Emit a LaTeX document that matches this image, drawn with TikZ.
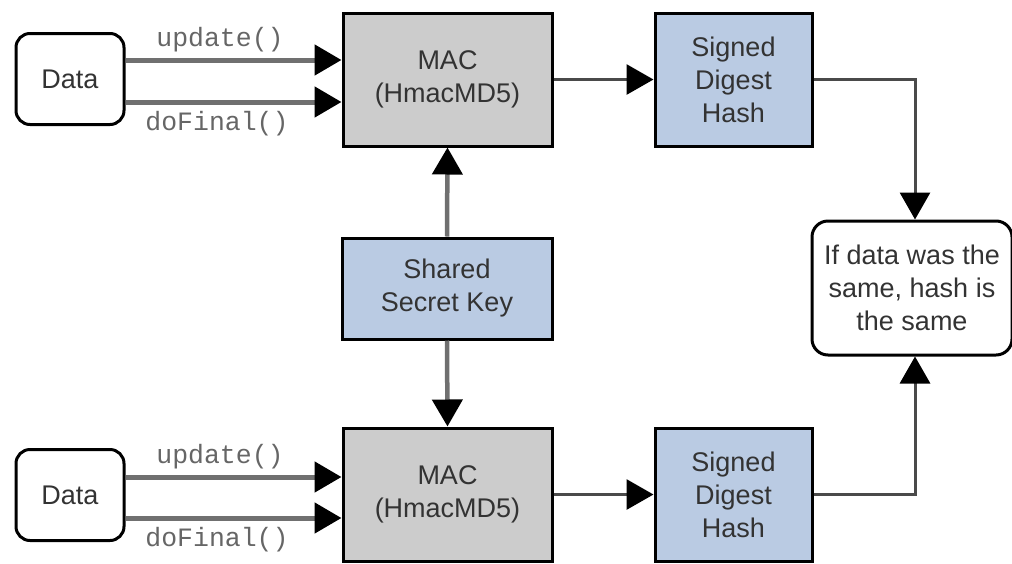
\documentclass[tikz,border=0pt]{standalone}
\usepackage{fontspec}
\setmainfont{Liberation Sans}
\setmonofont{Liberation Mono}
\usetikzlibrary{arrows.meta}

\definecolor{macgray}{HTML}{CCCCCC}
\definecolor{hashblue}{HTML}{BACBE3}
\definecolor{inktext}{HTML}{333333}
\definecolor{wire}{HTML}{707070}
\definecolor{wiredark}{HTML}{4A4A4A}
\definecolor{calltext}{HTML}{666666}

\tikzset{
  box/.style={draw=black, line width=3pt, text=inktext, align=center,
    inner sep=0pt, font=\fontsize{27}{33}\selectfont},
  databox/.style={box, fill=white, rounded corners=14pt,
    minimum width=108pt, minimum height=91pt},
  macbox/.style={box, fill=macgray, minimum width=209pt, minimum height=133pt},
  hashbox/.style={box, fill=hashblue, minimum width=157pt, minimum height=133pt},
  keybox/.style={box, fill=hashblue, minimum width=210pt, minimum height=101pt},
  resultbox/.style={box, fill=white, rounded corners=16pt,
    minimum width=200pt, minimum height=134pt},
  tip/.style={-{Triangle[length=27pt,width=30pt,color=black]}},
  feed/.style={tip, draw=wire, line width=5pt},
  keyline/.style={tip, draw=wire, line width=4.5pt},
  digest/.style={tip, draw=wiredark, line width=3pt},
  call/.style={text=calltext, inner sep=0pt,
    font=\ttfamily\fontsize{26.5}{30}\selectfont},
}

\begin{document}
\begin{tikzpicture}[x=1pt,y=-1pt]
\useasboundingbox (0,0) rectangle (1012,563);

% upper chain
\node[databox] (data1) at (70,79) {Data};
\node[macbox]  (mac1)  at (447.5,79.5) {MAC\\(HmacMD5)};
\node[hashbox] (sig1)  at (733.5,79.5) {Signed\\Digest\\Hash};

% shared key in the middle
\node[keybox] (key) at (447,288.5) {Shared\\Secret Key};

% lower chain
\node[databox] (data2) at (70,495) {Data};
\node[macbox]  (mac2)  at (447.5,494.5) {MAC\\(HmacMD5)};
\node[hashbox] (sig2)  at (733.5,494.5) {Signed\\Digest\\Hash};

% comparison result
\node[resultbox] (res) at (912,288) {If data was the\\same, hash is\\the same};

% method-call labels
\node[call] (up1)  at (220,40)  {update()};
\node[call] (fin1) at (217,124) {doFinal()};
\node[call] (up2)  at (220,457) {update()};
\node[call] (fin2) at (217,540) {doFinal()};

% data fed into the MACs
\draw[feed] ([yshift=19pt]data1.east) -- ([yshift=19pt]data1.east -| mac1.west);
\draw[feed] ([yshift=-23pt]data1.east) -- ([yshift=-23pt]data1.east -| mac1.west);
\draw[feed] ([yshift=18pt]data2.east) -- ([yshift=18pt]data2.east -| mac2.west);
\draw[feed] ([yshift=-23pt]data2.east) -- ([yshift=-23pt]data2.east -| mac2.west);

% key into both MACs
\draw[keyline] (key.north) -- (mac1.south);
\draw[keyline] (key.south) -- (mac2.north);

% MAC output to digests
\draw[digest] (mac1.east) -- (sig1.west);
\draw[digest] (mac2.east) -- (sig2.west);

% digests compared
\draw[digest] (sig1.east) -| ([xshift=3pt]res.north);
\draw[digest] (sig2.east) -| ([xshift=3pt]res.south);
\end{tikzpicture}
\end{document}
